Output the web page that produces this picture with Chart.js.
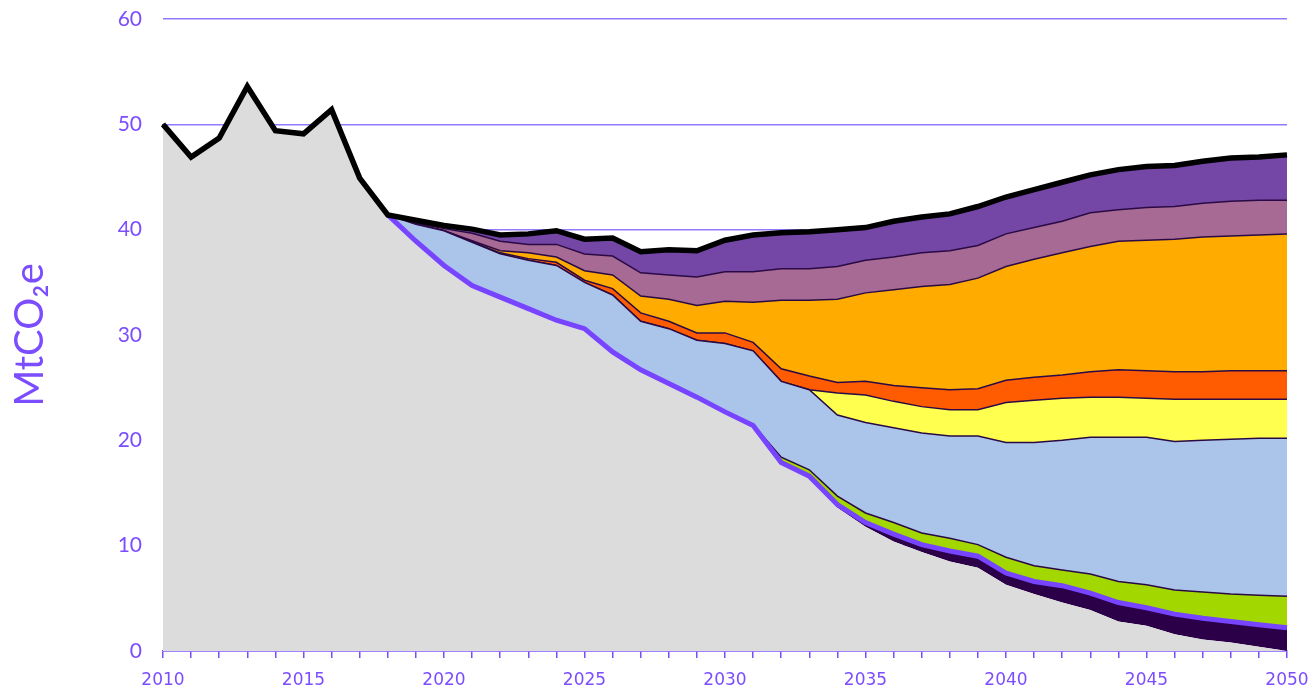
<!DOCTYPE html>
<html>
<head>
<meta charset="utf-8">
<script src="https://cdn.jsdelivr.net/npm/chart.js@4"></script>
<style>
  html, body { margin: 0; padding: 0; background: #fff; }
  #wrap { width: 1314px; height: 692px; }
</style>
</head>
<body>
<div id="wrap"><canvas id="myChart"></canvas></div>
<script>
const years = ['2010','2011','2012','2013','2014','2015','2016','2017','2018','2019',
  '2020','2021','2022','2023','2024','2025','2026','2027','2028','2029',
  '2030','2031','2032','2033','2034','2035','2036','2037','2038','2039',
  '2040','2041','2042','2043','2044','2045','2046','2047','2048','2049','2050'];

// base emissions (grey area)
const baseline = [50.0, 46.9, 48.7, 53.6, 49.4, 49.1, 51.4, 44.9, 41.4, 38.9,
  36.6, 34.7, 33.6, 32.5, 31.4, 30.6, 28.4, 26.7, 25.4, 24.1,
  22.7, 21.3, 17.7, 16.4, 13.6, 11.8, 10.4, 9.4, 8.5, 7.9,
  6.3, 5.4, 4.6, 3.9, 2.8, 2.4, 1.6, 1.1, 0.8, 0.4, 0.0];
const removals = [0, 0, 0, 0, 0, 0, 0, 0, 0, 0,
  0, 0, 0, 0, 0, 0, 0, 0, 0, 0,
  0, 0.1, 0.2, 0.2, 0.3, 0.4, 0.7, 0.7, 1.0, 1.1,
  1.1, 1.2, 1.6, 1.6, 1.8, 1.7, 1.9, 2.0, 2.0, 2.1, 2.2];
const green = [0, 0, 0, 0, 0, 0, 0, 0, 0, 0,
  0, 0, 0, 0, 0, 0, 0, 0, 0, 0,
  0, 0.1, 0.5, 0.6, 0.8, 0.9, 1.1, 1.1, 1.2, 1.1,
  1.5, 1.5, 1.5, 1.8, 2.0, 2.2, 2.3, 2.5, 2.6, 2.8, 3.0];
const blue = [0, 0, 0, 0, 0, 0, 0, 0, 0, 1.6,
  3.3, 4.1, 4.1, 4.6, 5.2, 4.4, 5.4, 4.6, 5.2, 5.4,
  6.5, 7.0, 7.2, 7.6, 7.7, 8.6, 9.0, 9.5, 9.7, 10.3,
  10.9, 11.7, 12.3, 13.0, 13.7, 14.0, 14.1, 14.4, 14.7, 14.9, 15.0];
const yellow = [0, 0, 0, 0, 0, 0, 0, 0, 0, 0,
  0, 0, 0, 0, 0, 0, 0, 0, 0, 0,
  0, 0, 0, 0, 2.1, 2.6, 2.5, 2.5, 2.5, 2.5,
  3.8, 4.0, 4.0, 3.8, 3.8, 3.7, 4.0, 3.9, 3.8, 3.7, 3.7];
const red = [0, 0, 0, 0, 0, 0, 0, 0, 0, 0,
  0, 0.05, 0.1, 0.15, 0.3, 0.2, 0.6, 0.8, 0.7, 0.7,
  1.0, 0.8, 1.2, 1.3, 1.0, 1.3, 1.5, 1.8, 1.9, 2.0,
  2.1, 2.2, 2.2, 2.4, 2.6, 2.6, 2.6, 2.6, 2.7, 2.7, 2.7];
const orange = [0, 0, 0, 0, 0, 0, 0, 0, 0, 0,
  0, 0.1, 0.2, 0.55, 0.5, 0.9, 1.3, 1.6, 2.1, 2.6,
  3.0, 3.8, 6.5, 7.2, 7.9, 8.4, 9.1, 9.6, 10.0, 10.5,
  10.8, 11.2, 11.6, 11.9, 12.2, 12.4, 12.6, 12.8, 12.8, 12.9, 13.0];
const mauve = [0, 0, 0, 0, 0, 0, 0, 0, 0, 0.1,
  0.2, 0.7, 0.9, 0.8, 1.2, 1.6, 1.8, 2.2, 2.3, 2.7,
  2.8, 2.9, 3.0, 3.0, 3.1, 3.1, 3.1, 3.2, 3.2, 3.1,
  3.1, 3.0, 3.0, 3.2, 3.0, 3.1, 3.1, 3.2, 3.3, 3.3, 3.2];
const purple = [0, 0, 0, 0, 0, 0, 0, 0, 0, 0.3,
  0.3, 0.4, 0.6, 1.0, 1.3, 1.4, 1.7, 2.0, 2.4, 2.5,
  3.0, 3.5, 3.4, 3.5, 3.5, 3.1, 3.4, 3.4, 3.5, 3.7,
  3.5, 3.6, 3.7, 3.6, 3.8, 3.9, 3.9, 4.0, 4.1, 4.1, 4.3];
const yTicks = [0, 10, 20, 30, 40, 50, 60];

const layers = [baseline, removals, green, blue, yellow, red, orange, mauve, purple];
// lines on top of the stack
const totalLine = years.map((y, i) => layers.reduce((s, a) => s + a[i], 0));
const pathwayLine = years.map((y, i) => (+y < 2018 ? null : baseline[i] + removals[i]));

const purpleTxt = '#7b4dff';
const edge = '#2a0a44';

function layer(data, color, bw) {
  return {
    data: data,
    backgroundColor: color,
    borderColor: edge,
    borderWidth: bw,
    fill: '-1',
    pointRadius: 0,
    tension: 0
  };
}

const ctx = document.getElementById('myChart').getContext('2d');
const myChart = new Chart(ctx, {
  type: 'line',
  data: {
    labels: years,
    datasets: [
      { data: baseline, backgroundColor: '#dcdcdc', borderWidth: 0, fill: 'origin', pointRadius: 0 },
      layer(removals, '#2b0048', 0),
      layer(green, '#a2d700', 1.5),
      layer(blue, '#abc4ea', 1.5),
      layer(yellow, '#ffff4f', 1.5),
      layer(red, '#ff5b00', 1.5),
      layer(orange, '#ffab00', 1.5),
      layer(mauve, '#a66a94', 1.5),
      layer(purple, '#7446a6', 1.5),
      { data: pathwayLine, yAxisID: 'y2', borderColor: '#7744ff', borderWidth: 5,
        fill: false, pointRadius: 0, order: -1 },
      { data: totalLine, yAxisID: 'y2', borderColor: '#000', borderWidth: 5.5,
        fill: false, pointRadius: 0, order: -2 }
    ]
  },
  options: {
    responsive: true,
    maintainAspectRatio: false,
    animation: false,
    layout: { padding: { left: 4, right: 27, top: 19, bottom: 0 } },
    plugins: { legend: { display: false }, tooltip: { enabled: false } },
    scales: {
      x: {
        z: 1,
        afterFit: (scale) => { scale.height = 41; scale.paddingRight = 0; scale.paddingLeft = 0; },
        grid: { drawOnChartArea: false, drawTicks: true, tickLength: 7, color: purpleTxt, lineWidth: 1.5 },
        border: { display: true, color: purpleTxt, width: 1.5 },
        ticks: {
          autoSkip: false,
          maxRotation: 0,
          padding: 12,
          color: purpleTxt,
          font: { family: 'DejaVu Sans', size: 17 },
          callback: function (v) {
            const lab = this.getLabelForValue(v);
            return (+lab) % 5 === 0 ? lab : '';
          }
        }
      },
      y: {
        stacked: true,
        min: 0,
        max: 60,
        afterFit: (scale) => { scale.width = 159; scale.paddingTop = 0; scale.paddingBottom = 0; },
        afterBuildTicks: (scale) => { scale.ticks = yTicks.map(v => ({ value: v })); },
        grid: { color: '#9479ff', lineWidth: 1.5, drawTicks: false },
        border: { display: false },
        ticks: { color: purpleTxt, padding: 21, font: { family: 'Lato', size: 21 } },
        title: {
          display: true,
          text: 'MtCO₂e',
          color: purpleTxt,
          padding: 2,
          font: { family: 'Lato', size: 40 }
        }
      },
      y2: { display: false, min: 0, max: 60 }
    }
  }
});
</script>
</body>
</html>
